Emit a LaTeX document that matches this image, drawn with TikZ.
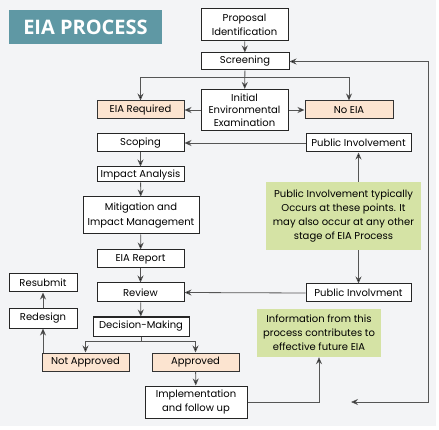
\documentclass[tikz,border=0pt]{standalone}
\usepackage{fontspec}
\setmainfont{Poppins}
\newfontfamily\titlefont{Open Sans}
\usetikzlibrary{arrows.meta,calc}
\definecolor{bgc}{HTML}{F3F4F6}
\definecolor{teal}{HTML}{5F98A4}
\definecolor{peach}{HTML}{FCE4D0}
\definecolor{lgreen}{HTML}{D5E3A5}
\definecolor{linec}{HTML}{555555}
\tikzset{
  box/.style={draw=black!85, line width=1pt, fill=white, inner sep=1pt, align=center,
    font=\fontsize{10}{12.8}\selectfont},
  pbox/.style={box, fill=peach, draw=black!80},
  gbox/.style={fill=lgreen, draw=none, align=center, inner sep=1pt,
    font=\fontsize{10}{14}\selectfont},
  arr/.style={draw=linec, line width=0.8pt, -{Stealth[length=7pt,width=6pt,fill=black]}},
  ln/.style={draw=linec, line width=0.8pt},
}
\begin{document}
\begin{tikzpicture}[x=1pt,y=-1pt]
\useasboundingbox (0,0) rectangle (439,430);
\fill[white] (0,0) rectangle (439,430);
\fill[bgc] (0,0) rectangle (436,426);
% title
\node[fill=teal, minimum width=153pt, minimum height=34pt, inner sep=0pt,
  text=white, font=\titlefont\bfseries\fontsize{20}{22}\selectfont] (title) at (85.5,27) {EIA PROCESS};
% boxes
\node[box, minimum width=87pt, minimum height=32pt, font=\fontsize{10}{14}\selectfont] (prop) at (244.5,25) {Proposal\\Identification};
\node[box, minimum width=88pt, minimum height=17pt] (scr) at (245,61.5) {Screening};
\node[box, minimum width=87pt, minimum height=41pt, font=\fontsize{10}{12.3}\selectfont] (iee) at (244.5,110) {Initial\\Environmental\\Examination};
\node[pbox, minimum width=88pt, minimum height=18pt] (noeia) at (349,110) {No EIA};
\node[pbox, minimum width=87pt, minimum height=18pt] (eiareq) at (140.5,110) {EIA Required};
\node[box, minimum width=87pt, minimum height=18pt] (scop) at (140.5,143) {Scoping};
\node[box, minimum width=105pt, minimum height=18pt] (pi1) at (358.5,143) {Public Involvement};
\node[box, minimum width=87pt, minimum height=15pt] (ia) at (140.5,174.5) {Impact Analysis};
\node[box, minimum width=116pt, minimum height=37pt, font=\fontsize{10}{15}\selectfont] (mit) at (141,215.5) {Mitigation and\\Impact Management};
\node[box, minimum width=87pt, minimum height=18pt] (rep) at (140.5,259) {EIA Report};
\node[box, minimum width=87pt, minimum height=19pt] (rev) at (140.5,292.5) {Review};
\node[box, minimum width=68pt, minimum height=18pt] (resub) at (43,283) {Resubmit};
\node[box, minimum width=68pt, minimum height=19pt] (redes) at (43,318.5) {Redesign};
\node[box, minimum width=96pt, minimum height=19pt] (dm) at (141,326.5) {Decision-Making};
\node[pbox, minimum width=87pt, minimum height=18pt] (na) at (85.5,362) {Not Approved};
\node[pbox, minimum width=87pt, minimum height=18pt] (ap) at (195.5,362) {Approved};
\node[box, minimum width=102pt, minimum height=32pt, font=\fontsize{10}{14}\selectfont] (impl) at (196,402) {Implementation\\and follow up};
\node[box, minimum width=105pt, minimum height=18pt] (pi2) at (358.5,293) {Public Involvment};
\node[gbox, minimum width=155pt, minimum height=68pt] (g1) at (343.5,216)
  {Public Involvement typically\\Occurs at these points. It\\may also occur at any other\\stage of EIA Process};
\node[gbox, minimum width=124pt, minimum height=48pt] (g2) at (319,333)
  {Information from this\\process contributes to\\effective future EIA};
% connectors
\draw[arr] (prop) -- (scr);
\draw[arr] (scr) -- (iee);
\coordinate (j1) at (245,77);
\draw[arr] (j1) -| (eiareq.north);
\draw[arr] (j1) -| (noeia.north);
\draw[arr] (iee.west) -- (eiareq.east);
\draw[arr] (iee.east) -- (noeia.west);
\draw[arr] (pi1.west) -- (scop.east);
\draw[arr] (scop) -- (ia);
\draw[arr] (ia) -- (mit);
\draw[arr] (mit) -- (rep);
\draw[arr] (rep) -- (rev);
\draw[arr] (rev) -- (dm);
\draw[arr] (pi2.west) -- (rev.east);
\draw[arr] (g1.north -| pi1.south) -- (pi1.south);
\draw[arr] (g1.south -| pi2.north) -- (pi2.north);
\coordinate (j2) at (141,341);
\draw[ln] (dm.south) -- (j2);
\draw[arr] (j2) -| (na.north);
\draw[arr] (j2) -| (ap.north);
\draw[arr] (redes.south |- na.north) -- (redes.south);
\draw[arr] (redes) -- (resub);
\draw[arr] (ap) -- (impl);
\draw[arr] (impl.east) -| (g2.south);
\coordinate (e1) at (351,402);
\coordinate (c1) at (428,402);
\draw[ln, {Stealth[length=7pt,width=6pt,fill=black]}-{Stealth[length=7pt,width=6pt,fill=black]}] (e1) -- (c1) |- (scr.east);
\end{tikzpicture}
\end{document}
